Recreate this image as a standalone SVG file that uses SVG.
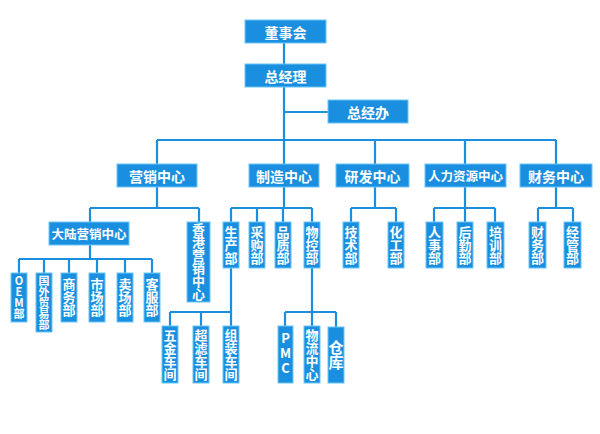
<svg xmlns="http://www.w3.org/2000/svg" width="600" height="434" viewBox="0 0 600 434">
<style>
.b{fill:#1a8fe0;stroke:#6cc6f7;stroke-width:1}
.t{fill:#fff;font-family:"Noto Sans CJK SC","Liberation Sans",sans-serif;font-weight:bold;font-size:14px;text-anchor:middle;dominant-baseline:central}
.v{writing-mode:vertical-rl;text-orientation:upright;font-size:13px}
.l{stroke:#1a8fe0;stroke-width:2.2;fill:none}
</style>
<rect width="600" height="434" fill="#fff"/>
<g id="connectors">
<path class="l" d="M284 43V187M284 112H328M157 140H556M157 140V164M375 140V164M465 140V164M556 140V164"/>
<path class="l" d="M157 187V208M90 208H199M90 208V222M199 208V222M90 245V259M19 259H152M19 259V273M44 259V273M69 259V273M97 259V273M125 259V273M152 259V273"/>
<path class="l" d="M284 187V208M231 208H312M231 208V222M257 208V222M283 208V222M312 208V222M231 268V312M170 312H231M170 312V326M201 312V326M231 312V326M312 268V312M285 312H336M285 312V326M312 312V326M336 312V327"/>
<path class="l" d="M375 187V208M351 208H396M351 208V222M396 208V222M465 187V208M434 208H495M434 208V222M465 208V222M495 208V222M556 187V208M538 208H573M538 208V222M573 208V222"/>
</g>
<g id="n1"><rect class="b" x="245" y="20" width="81" height="23"/><text class="t" x="285.500" y="31.500">董事会</text></g>
<g id="n2"><rect class="b" x="245" y="64" width="81" height="23"/><text class="t" x="285.500" y="75.500">总经理</text></g>
<g id="n3"><rect class="b" x="328" y="100" width="80" height="23"/><text class="t" x="368" y="111.500">总经办</text></g>
<g id="n4"><rect class="b" x="117" y="164" width="80" height="23"/><text class="t" x="157" y="175.500">营销中心</text></g>
<g id="n5"><rect class="b" x="249" y="164" width="70" height="23"/><text class="t" x="284" y="175.500">制造中心</text></g>
<g id="n6"><rect class="b" x="336" y="164" width="73" height="23"/><text class="t" x="372.500" y="175.500">研发中心</text></g>
<g id="n7"><rect class="b" x="425" y="164" width="81" height="23"/><text class="t" x="465.500" y="175.500" style="font-size:12.5px">人力资源中心</text></g>
<g id="n8"><rect class="b" x="520" y="164" width="72" height="23"/><text class="t" x="556" y="175.500">财务中心</text></g>
<g id="n9"><rect class="b" x="49" y="222" width="80" height="23"/><text class="t" x="89" y="233.500" style="font-size:12.500px">大陆营销中心</text></g>
<g id="n10"><rect class="b" x="187" y="222" width="23" height="80"/><text class="t v" x="198.500" y="262">香港营销中心</text></g>
<g id="n11"><rect class="b" x="11" y="273" width="16" height="49"/><text class="t v" x="19" y="297.500" style="font-size:11px">OEM部</text></g>
<g id="n12"><rect class="b" x="36" y="273" width="16" height="59"/><text class="t v" x="44" y="302.500" style="font-size:11px">国外贸易部</text></g>
<g id="n13"><rect class="b" x="61" y="273" width="16" height="49"/><text class="t v" x="69" y="297.500">商务部</text></g>
<g id="n14"><rect class="b" x="89" y="273" width="16" height="49"/><text class="t v" x="97" y="297.500">市场部</text></g>
<g id="n15"><rect class="b" x="117" y="273" width="16" height="49"/><text class="t v" x="125" y="297.500">卖场部</text></g>
<g id="n16"><rect class="b" x="144" y="273" width="16" height="49"/><text class="t v" x="152" y="297.500">客服部</text></g>
<g id="n17"><rect class="b" x="223" y="222" width="16" height="46"/><text class="t v" x="231" y="245">生产部</text></g>
<g id="n18"><rect class="b" x="249" y="222" width="16" height="46"/><text class="t v" x="257" y="245">采购部</text></g>
<g id="n19"><rect class="b" x="275" y="222" width="16" height="46"/><text class="t v" x="283" y="245">品质部</text></g>
<g id="n20"><rect class="b" x="304" y="222" width="16" height="46"/><text class="t v" x="312" y="245">物控部</text></g>
<g id="n21"><rect class="b" x="162" y="326" width="16" height="57"/><text class="t v" x="170" y="354.500">五金车间</text></g>
<g id="n22"><rect class="b" x="193" y="326" width="16" height="57"/><text class="t v" x="201" y="354.500">超滤车间</text></g>
<g id="n23"><rect class="b" x="223" y="326" width="16" height="57"/><text class="t v" x="231" y="354.500">组装车间</text></g>
<g id="n24"><rect class="b" x="278" y="326" width="15" height="57"/><text class="t v" x="285.500" y="354.500" style="letter-spacing:2px">PMC</text></g>
<g id="n25"><rect class="b" x="304" y="326" width="16" height="57"/><text class="t v" x="312" y="354.500">物流中心</text></g>
<g id="n26"><rect class="b" x="328" y="327" width="16" height="56"/><text class="t v" x="336" y="355" style="font-size:15px">仓库</text></g>
<g id="n27"><rect class="b" x="343" y="222" width="16" height="46"/><text class="t v" x="351" y="245">技术部</text></g>
<g id="n28"><rect class="b" x="388" y="222" width="16" height="46"/><text class="t v" x="396" y="245">化工部</text></g>
<g id="n29"><rect class="b" x="426" y="222" width="17" height="46"/><text class="t v" x="434.500" y="245">人事部</text></g>
<g id="n30"><rect class="b" x="457" y="222" width="16" height="46"/><text class="t v" x="465" y="245">后勤部</text></g>
<g id="n31"><rect class="b" x="487" y="222" width="17" height="46"/><text class="t v" x="495.500" y="245">培训部</text></g>
<g id="n32"><rect class="b" x="529" y="222" width="17" height="46"/><text class="t v" x="537.500" y="245">财务部</text></g>
<g id="n33"><rect class="b" x="564" y="222" width="17" height="46"/><text class="t v" x="572.500" y="245">经管部</text></g>
</svg>
